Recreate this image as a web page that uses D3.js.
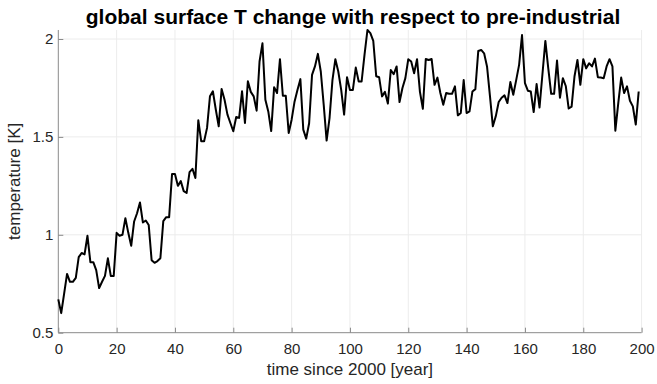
<!DOCTYPE html>
<html>
<head>
<meta charset="utf-8">
<script src="https://cdn.jsdelivr.net/npm/d3@7/dist/d3.min.js"></script>
<style>
  html, body { margin: 0; padding: 0; background: #fff; }
  svg { display: block; font-family: "Liberation Sans", Arial, Helvetica, sans-serif; }
</style>
</head>
<body>
<svg id="chart" width="657" height="384"></svg>
<script>
// Global surface temperature change relative to pre-industrial, yearly values
const years = d3.range(0, 200);
const temperature = [
  0.67, 0.60, 0.70, 0.80, 0.76, 0.76, 0.78, 0.886, 0.907, 0.90,
  0.995, 0.86, 0.86, 0.82, 0.728, 0.76, 0.79, 0.88, 0.79, 0.79,
  1.01, 0.995, 1.00, 1.085, 1.01, 0.944, 1.068, 1.11, 1.165, 1.063,
  1.073, 1.05, 0.87, 0.857, 0.866, 0.88, 1.07, 1.09, 1.09, 1.31,
  1.31, 1.25, 1.274, 1.223, 1.214, 1.32, 1.337, 1.29, 1.585, 1.478,
  1.478, 1.546, 1.707, 1.733, 1.64, 1.554, 1.745, 1.69, 1.614, 1.571,
  1.529, 1.602, 1.597, 1.733, 1.571, 1.784, 1.73, 1.707, 1.634, 1.885,
  1.978, 1.69, 1.63, 1.53, 1.754, 1.724, 1.897, 1.71, 1.71, 1.52,
  1.588, 1.68, 1.74, 1.795, 1.537, 1.491, 1.57, 1.817, 1.86, 1.924,
  1.834, 1.665, 1.481, 1.596, 1.79, 1.897, 1.834, 1.74, 1.614, 1.805,
  1.74, 1.74, 1.854, 1.783, 1.783, 1.92, 2.046, 2.03, 1.99, 1.81,
  1.805, 1.707, 1.73, 1.67, 1.842, 1.82, 1.86, 1.678, 1.75, 1.80,
  1.897, 1.885, 1.825, 1.897, 1.73, 1.644, 1.898, 1.893, 1.898, 1.766,
  1.803, 1.724, 1.664, 1.724, 1.72, 1.72, 1.758, 1.61, 1.622, 1.79,
  1.622, 1.63, 1.732, 1.744, 1.939, 1.944, 1.927, 1.86, 1.71, 1.554,
  1.605, 1.678, 1.70, 1.712, 1.673, 1.78, 1.715, 1.79, 1.868, 2.02,
  1.775, 1.736, 1.732, 1.627, 1.77, 1.65, 1.82, 1.99, 1.85, 1.72,
  1.72, 1.89, 1.70, 1.80, 1.76, 1.645, 1.655, 1.81, 1.893, 1.766,
  1.897, 1.85, 1.876, 1.86, 1.90, 1.805, 1.803, 1.80, 1.86, 1.897,
  1.86, 1.532, 1.673, 1.803, 1.724, 1.758, 1.685, 1.656, 1.563, 1.732
];
const xTicks = [0, 20, 40, 60, 80, 100, 120, 140, 160, 180, 200];
const yTicks = [0.5, 1, 1.5, 2];

const titleText = "global surface T change with respect to pre-industrial";
const xLabelText = "time since 2000 [year]";
const yLabelText = "temperature [K]";

const svg = d3.select("#chart");

const x = d3.scaleLinear().domain([0, 200]).range([58.3, 641.6]);
const y = d3.scaleLinear().domain([0.5, 2]).range([332.7, 39]);

const yTop = y(d3.max(temperature));
const xLeft = x.range()[0], xRight = x.range()[1], yBottom = y(0.5);

const axisColor = "#8a8a8a";
const textColor = "#262626";
const gridColor = "#ececec";

// grid
const grid = svg.append("g");
grid.selectAll("line.vx").data(xTicks.slice(1)).join("line")
  .attr("x1", d => x(d)).attr("x2", d => x(d))
  .attr("y1", yBottom).attr("y2", yTop)
  .attr("stroke", gridColor).attr("stroke-width", 1);
grid.selectAll("line.hy").data(yTicks.slice(1)).join("line")
  .attr("x1", xLeft).attr("x2", xRight)
  .attr("y1", d => y(d)).attr("y2", d => y(d))
  .attr("stroke", gridColor).attr("stroke-width", 1);

// axes (inward ticks)
const xAxis = d3.axisBottom(x).tickValues(xTicks).tickSize(-5).tickPadding(13)
  .tickFormat(d3.format("d"));
const gx = svg.append("g").attr("transform", `translate(0,${yBottom})`).call(xAxis);
const yAxis = d3.axisLeft(y).tickValues(yTicks).tickSize(-5).tickPadding(10)
  .tickFormat(d => String(d));
const gy = svg.append("g").attr("transform", `translate(${xLeft},0)`).call(yAxis);

[gx, gy].forEach(g => {
  g.select(".domain").remove();
  g.selectAll(".tick line").attr("stroke", axisColor);
  g.selectAll(".tick text").attr("fill", textColor)
    .style("font-size", "15px").style("font-family", "'Liberation Sans', Arial, sans-serif");
});
gx.selectAll(".tick text").attr("dy", "0.71em").attr("y", 11);
gy.selectAll(".tick text").attr("x", -5);

// axis lines (no box)
svg.append("line").attr("x1", xLeft).attr("x2", xRight)
  .attr("y1", yBottom).attr("y2", yBottom).attr("stroke", axisColor);
svg.append("line").attr("x1", xLeft).attr("x2", xLeft)
  .attr("y1", yBottom).attr("y2", yTop).attr("stroke", axisColor);

// data line
const line = d3.line().x((d, i) => x(years[i])).y(d => y(d));
svg.append("path").datum(temperature)
  .attr("d", line)
  .attr("fill", "none")
  .attr("stroke", "#000")
  .attr("stroke-width", 2)
  .attr("stroke-linejoin", "round");

// labels
svg.append("text").attr("x", 353).attr("y", 24)
  .attr("text-anchor", "middle").attr("fill", "#000")
  .style("font-size", "21px").style("font-weight", "bold")
  .text(titleText);
svg.append("text").attr("x", (xLeft + xRight) / 2).attr("y", 375)
  .attr("text-anchor", "middle").attr("fill", textColor)
  .style("font-size", "17px")
  .text(xLabelText);
svg.append("text")
  .attr("transform", `translate(20,${(yBottom + yTop) / 2}) rotate(-90)`)
  .attr("text-anchor", "middle").attr("fill", textColor)
  .style("font-size", "17px")
  .text(yLabelText);
</script>
</body>
</html>
